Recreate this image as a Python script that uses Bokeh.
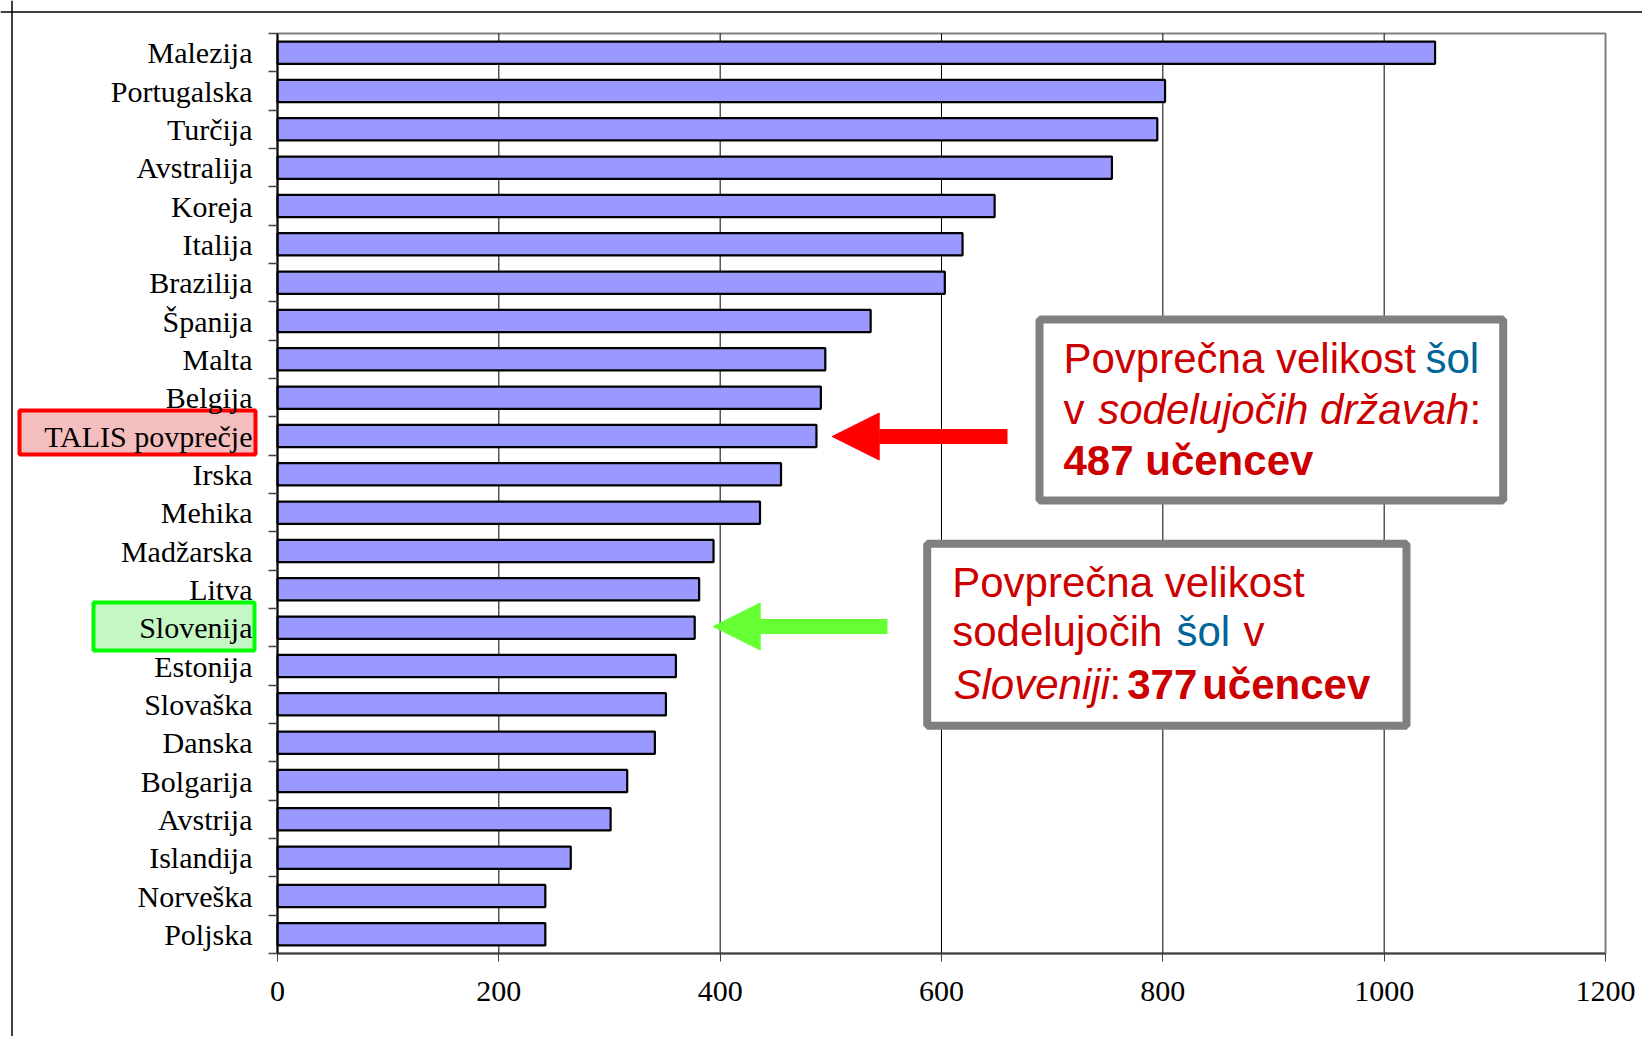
from bokeh.plotting import figure
from bokeh.models import (Range1d, FixedTicker, BoxAnnotation, Label, Arrow,
                          NormalHead, ColumnDataSource, Span)
from bokeh.embed import file_html
from bokeh.resources import INLINE

# ---------------- data ----------------
countries = ["Malezija", "Portugalska", "Turčija", "Avstralija", "Koreja", "Italija",
             "Brazilija", "Španija", "Malta", "Belgija", "TALIS povprečje", "Irska",
             "Mehika", "Madžarska", "Litva", "Slovenija", "Estonija", "Slovaška",
             "Danska", "Bolgarija", "Avstrija", "Islandija", "Norveška", "Poljska"]
sizes = [1046, 802, 795, 754, 648, 619, 603, 536, 495, 491, 487, 455,
         436, 394, 381, 377, 360, 351, 341, 316, 301, 265, 242, 242]
x_ticks = [0, 200, 400, 600, 800, 1000, 1200]
grid_ticks = [200, 400, 600, 800, 1000]

RED = "#CC0000"
BLUE = "#006699"

# ---------------- layout (page px <-> data) ----------------
W, H = 1642, 1036
PL, PT = 277, 33          # plot-area left / top on the page
PW, PH = 1328, 920        # plot-area size
N = len(countries)
XMAX = 1200
SX = PW / XMAX
SY = PH / N


def X(px):
    return (px - PL) / SX


def Y(py):
    return (py - PT) / SY


p = figure(width=W, height=H, min_border_left=0, min_border_right=0,
           min_border_top=0, min_border_bottom=0,
           x_range=Range1d(X(0), X(W)), y_range=Range1d(Y(H), Y(0)),
           output_backend="svg", toolbar_location=None)

p.background_fill_color = "white"
p.border_fill_color = "white"
p.outline_line_color = None
p.xgrid.visible = False
p.ygrid.visible = False

# x axis, fixed at the bottom of the plot area
xa = p.xaxis[0]
xa.fixed_location = N
xa.bounds = (0, XMAX)
xa.ticker = FixedTicker(ticks=x_ticks)
xa.axis_line_color = "#404040"
xa.axis_line_width = 2
xa.major_tick_out = 8
xa.major_tick_in = 0
xa.minor_tick_out = 0
xa.minor_tick_in = 0
xa.major_tick_line_color = "#404040"
xa.major_label_text_font = "Liberation Serif"
xa.major_label_text_font_size = "30px"
xa.major_label_text_color = "black"
xa.major_label_standoff = 20

# y axis, fixed at x = 0
centers = [i + 0.5 for i in range(N)]
ya = p.yaxis[0]
ya.fixed_location = 0
ya.bounds = (0, N)
ya.ticker = FixedTicker(ticks=centers, minor_ticks=list(range(N + 1)))
ya.major_label_overrides = {c: name for c, name in zip(centers, countries)}
ya.axis_line_color = "black"
ya.axis_line_width = 2
ya.major_tick_out = 0
ya.major_tick_in = 0
ya.minor_tick_out = 9
ya.minor_tick_in = 0
ya.minor_tick_line_color = "#404040"
ya.minor_tick_line_width = 1.5
ya.major_label_text_font = "Liberation Serif"
ya.major_label_text_font_size = "30px"
ya.major_label_text_color = "black"
ya.major_label_standoff = 16

# outer page border (left and top visible)
p.add_layout(Span(location=X(11.5), dimension="height", line_color="black",
                  line_width=1.5))
p.add_layout(Span(location=Y(11.5), dimension="width", line_color="black",
                  line_width=1.5))

# plot-area border (gray)
p.add_layout(BoxAnnotation(left=0, right=XMAX, top=0, bottom=N, fill_alpha=0,
                           line_color="#808080", line_alpha=1, line_width=2,
                           level="underlay"))

# highlight boxes behind two category labels
p.add_layout(BoxAnnotation(left=X(19), right=X(255), top=Y(410), bottom=Y(454),
                           fill_color="#F5BEBE", fill_alpha=1, line_color="#FF0000",
                           line_alpha=1, line_width=4, level="underlay"))
p.add_layout(BoxAnnotation(left=X(93), right=X(254), top=Y(602), bottom=Y(650),
                           fill_color="#C4F7C4", fill_alpha=1, line_color="#00FF00",
                           line_alpha=1, line_width=4, level="underlay"))

# vertical grid lines within the plot area
p.segment(x0=grid_ticks, x1=grid_ticks, y0=[0] * len(grid_ticks),
          y1=[N] * len(grid_ticks), line_color="black", line_width=1)

# bars
src = ColumnDataSource(dict(y=centers, v=sizes, name=countries))
p.hbar(y="y", right="v", left=0, height=0.58, source=src,
       fill_color="#9999FF", line_color="black", line_width=2.2)

# annotation boxes
p.add_layout(BoxAnnotation(left=X(1039), right=X(1502.7), top=Y(319), bottom=Y(500),
                           fill_color="white", fill_alpha=1, line_color="#808080",
                           line_alpha=1, line_width=8))
p.add_layout(BoxAnnotation(left=X(926.7), right=X(1406), top=Y(543.3), bottom=Y(725.3),
                           fill_color="white", fill_alpha=1, line_color="#808080",
                           line_alpha=1, line_width=8))

DY = -18  # baseline correction
runs = [
    ("Povprečna velikost", 1063, 376, RED, "normal"),
    ("šol", 1425, 376, BLUE, "normal"),
    ("v", 1063, 426.7, RED, "normal"),
    ("sodelujočih državah", 1097.7, 426.7, RED, "italic"),
    (":", 1469, 426.7, RED, "normal"),
    ("487 učencev", 1063, 477.7, RED, "bold"),
    ("Povprečna velikost", 951.7, 600, RED, "normal"),
    ("sodelujočih", 951.7, 649.3, RED, "normal"),
    ("šol", 1176, 649.3, BLUE, "normal"),
    ("v", 1243, 649.3, RED, "normal"),
    ("Sloveniji", 953, 701.7, RED, "italic"),
    (":", 1109, 701.7, RED, "normal"),
    ("377", 1126.7, 701.7, RED, "bold"),
    ("učencev", 1201.7, 701.7, RED, "bold"),
]
for text, px, py, col, style in runs:
    p.add_layout(Label(x=X(px), y=Y(py + DY), text=text, text_color=col,
                       text_font="Liberation Sans", text_font_size="42px",
                       text_font_style=style, text_baseline="alphabetic",
                       text_align="left"))

# arrows
p.add_layout(Arrow(end=NormalHead(size=47, fill_color="#FF0000", line_color="#FF0000",
                                  line_width=1),
                   x_start=X(1007), y_start=Y(436), x_end=X(831.7), y_end=Y(436),
                   line_color="#FF0000", line_width=15))
p.add_layout(Arrow(end=NormalHead(size=47, fill_color="#66FF33", line_color="#66FF33",
                                  line_width=1),
                   x_start=X(887), y_start=Y(626), x_end=X(712.7), y_end=Y(626),
                   line_color="#66FF33", line_width=15))

open("out.html", "w").write(file_html(p, INLINE))
